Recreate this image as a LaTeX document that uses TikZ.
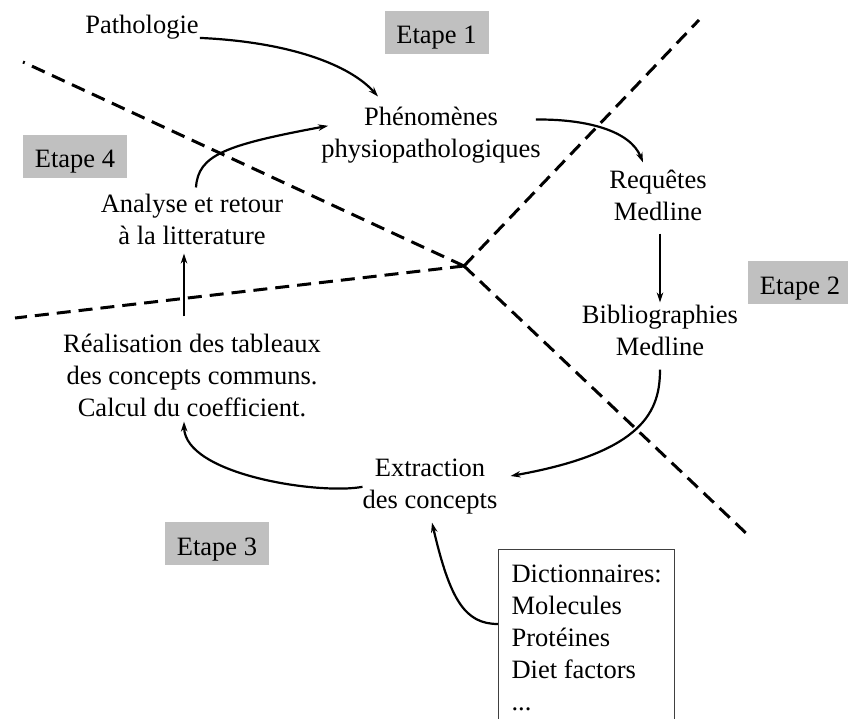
\documentclass[tikz,border=0pt]{standalone}
\usepackage{fontspec}
\setmainfont{Liberation Serif}
\usepackage{tikz}
\usetikzlibrary{arrows.meta}
\definecolor{etapegray}{RGB}{192,192,192}

\tikzset{
  txt/.style={align=center, inner sep=0pt, font=\fontsize{26.5}{32}\selectfont},
  etape/.style={fill=etapegray, inner sep=0pt, minimum width=104pt, text height=33pt, text depth=10pt, anchor=base, font=\fontsize{26.5}{32}\selectfont},
  dico/.style={draw=black!75, line width=1.2pt, align=left, inner xsep=13pt, inner ysep=15pt, anchor=north west, font=\fontsize{26.5}{32}\selectfont},
  flow/.style={line width=2.2pt, -{Stealth[length=10pt,width=6.5pt]}},
  cut/.style={line width=3pt, dash pattern=on 14pt off 8pt}
}

\begin{document}
\begin{tikzpicture}[x=1pt, y=-1pt]

  \useasboundingbox (0,0) rectangle (848,719);

  % Define cut lines
  \coordinate (mid) at (464,266);
  \coordinate (cutnw) at (23,62);
  \coordinate (cutne) at (699,20);
  \coordinate (cutse) at (748,535);
  \coordinate (cutw) at (15,318);
  \foreach \c in {cutnw,cutne,cutse,cutw}
    \draw[cut] (mid) -- (\c);

  % Define nodes
  \node[txt, anchor=base] (patho) at (142,34) {Pathologie};
  \node[txt] (pheno) at (431,134.8) {Phénomènes\\physiopathologiques};
  \node[txt] (req) at (658,195) {Requêtes\\Medline};
  \node[txt] (bib) at (660,330) {Bibliographies\\Medline};
  \node[txt] (extr) at (430,486.8) {Extraction\\des concepts};
  \node[txt] (real) at (192,375) {Réalisation des tableaux\\des concepts communs.\\Calcul du coefficient.};
  \node[txt] (analyse) at (192,219) {Analyse et retour\\à la litterature};
  \node[dico] (dict) at (498,549) {Dictionnaires:\\Molecules\\Protéines\\Diet factors\\...};

  \node[etape] (e1) at (436.5,44) {Etape 1};
  \node[etape] (e2) at (800,294) {Etape 2};
  \node[etape] (e3) at (217,555) {Etape 3};
  \node[etape] (e4) at (75,168) {Etape 4};

  % Connect the nodes
  \draw[flow] ([xshift=1pt,yshift=2pt]patho.south east) .. controls (290,42) and (350,65) .. ([xshift=-53pt,yshift=10pt]pheno.north);
  \draw[flow] ([xshift=-5pt,yshift=-13pt]pheno.north east) .. controls (585,119) and (630,130) .. ([xshift=-15pt,yshift=7pt]req.north);
  \draw[flow] ([xshift=2pt,yshift=-13pt]req.south) -- ([yshift=2pt]bib.north);
  \draw[flow] ([yshift=-14pt]bib.south) .. controls (660,410) and (645,452) .. ([xshift=13pt,yshift=-17pt]extr.north east);
  \draw[flow] (extr.west) .. controls (320,495) and (185,475) .. ([xshift=-8pt,yshift=-5pt]real.south);
  \draw[flow] ([yshift=-75pt]dict.north west) .. controls (465,624) and (450,600) .. ([xshift=2pt,yshift=-8pt]extr.south);
  \draw[flow] ([xshift=-8pt,yshift=17pt]real.north) -- ([xshift=-8pt,yshift=-9pt]analyse.south);
  \draw[flow] ([xshift=4pt,yshift=6pt]analyse.north) .. controls (198,155) and (225,145) .. ([xshift=7pt,yshift=9pt]pheno.west);

\end{tikzpicture}
\end{document}
